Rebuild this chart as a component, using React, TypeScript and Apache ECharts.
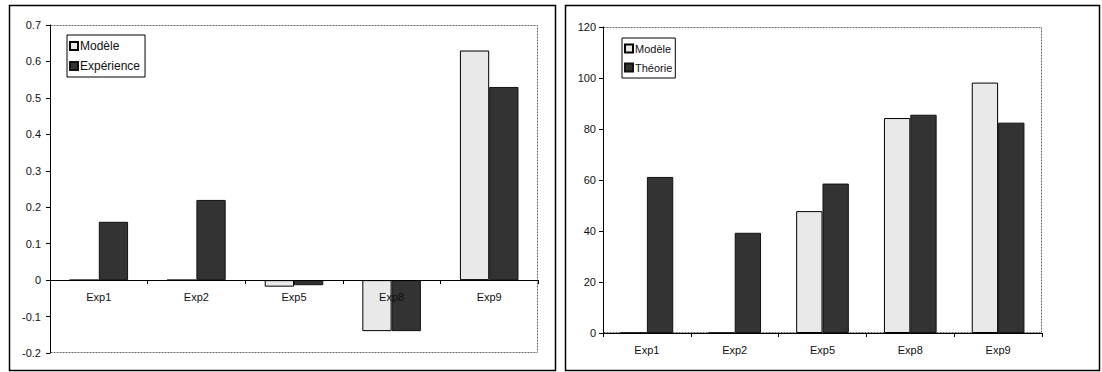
import React, { useEffect, useRef } from "react";
import * as echarts from "echarts";

const leftCategories = ["Exp1", "Exp2", "Exp5", "Exp8", "Exp9"];
const leftModele = [0, 0, -0.018, -0.14, 0.63];
const leftExperience = [0.16, 0.22, -0.014, -0.14, 0.53];

const rightCategories = ["Exp1", "Exp2", "Exp5", "Exp8", "Exp9"];
const rightModele = [0, 0, 47.8, 84.3, 98.2];
const rightTheorie = [61.2, 39.3, 58.6, 85.6, 82.5];

const FONT = "'Liberation Sans', Arial, sans-serif";
const LIGHT = "#e9e9e9";
const DARK = "#333333";

export default function App() {
  const ref = useRef<HTMLDivElement>(null);
  useEffect(() => {
    if (!ref.current) return;
    const chart = echarts.init(ref.current, null, { renderer: "svg" });
    const axisLabel = { fontFamily: FONT, fontSize: 11, color: "#111" };
    const yAxisCommon = {
      type: "value",
      axisLine: { show: true, lineStyle: { color: "#000", width: 1 } },
      axisTick: { show: true, length: 4, lineStyle: { color: "#000" } },
      splitLine: { show: false },
    };
    const xAxisCommon = {
      type: "category",
      z: 5,
      axisLine: { show: true, onZero: true, lineStyle: { color: "#000", width: 1 } },
      axisTick: { show: true, length: 4, inside: false, lineStyle: { color: "#000" } },
    };
    const barCommon = {
      type: "bar",
      barGap: "0%",
      barCategoryGap: "40%",
    };
    const legendCommon = {
      orient: "vertical",
      icon: "rect",
      itemWidth: 8,
      itemHeight: 8,
      itemGap: 8,
      borderColor: "#000",
      borderWidth: 1,
      selectedMode: false,
    };
    chart.setOption({
      animation: false,
      backgroundColor: "#fff",
      grid: [
        { left: 50, top: 25, width: 488, height: 328 },
        { left: 603, top: 27, width: 439, height: 306 },
      ],
      xAxis: [
        {
          ...xAxisCommon,
          gridIndex: 0,
          data: leftCategories,
          axisLabel: { ...axisLabel, margin: -62, hideOverlap: false },
        },
        {
          ...xAxisCommon,
          gridIndex: 1,
          data: rightCategories,
          axisLabel: { ...axisLabel, margin: 11 },
        },
      ],
      yAxis: [
        {
          ...yAxisCommon,
          gridIndex: 0,
          min: -0.2,
          max: 0.7,
          interval: 0.1,
          axisLabel: {
            ...axisLabel,
            margin: 9,
            formatter: (v: number) => String(Math.round(v * 10) / 10),
          },
        },
        {
          ...yAxisCommon,
          gridIndex: 1,
          min: 0,
          max: 120,
          interval: 20,
          axisLabel: { ...axisLabel, margin: 7 },
        },
      ],
      legend: [
        {
          ...legendCommon,
          data: ["Modèle", "Expérience"],
          left: 67,
          top: 35,
          padding: [5, 5, 5, 2],
          textStyle: { fontFamily: FONT, fontSize: 12, color: "#111", padding: [0, 0, 0, -3] },
        },
        {
          ...legendCommon,
          data: ["Modèle", "Théorie"],
          left: 622,
          top: 38,
          padding: [5, 3, 5, 2],
          textStyle: { fontFamily: FONT, fontSize: 11, color: "#111", padding: [0, 0, 0, -3] },
        },
      ],
      series: [
        {
          ...barCommon,
          name: "Modèle",
          xAxisIndex: 0,
          yAxisIndex: 0,
          data: leftModele,
          itemStyle: { color: LIGHT, borderColor: "#000", borderWidth: 1 },
        },
        {
          ...barCommon,
          name: "Expérience",
          xAxisIndex: 0,
          yAxisIndex: 0,
          data: leftExperience,
          itemStyle: { color: DARK, borderColor: "#111", borderWidth: 1 },
        },
        {
          ...barCommon,
          name: "Modèle",
          xAxisIndex: 1,
          yAxisIndex: 1,
          data: rightModele,
          itemStyle: { color: LIGHT, borderColor: "#000", borderWidth: 1 },
        },
        {
          ...barCommon,
          name: "Théorie",
          xAxisIndex: 1,
          yAxisIndex: 1,
          data: rightTheorie,
          itemStyle: { color: DARK, borderColor: "#111", borderWidth: 1 },
        },
      ],
      graphic: [
        {
          type: "rect",
          shape: { x: 9.5, y: 5.5, width: 546, height: 365 },
          style: { fill: "none", stroke: "#000", lineWidth: 1.5 },
          silent: true,
        },
        {
          type: "rect",
          shape: { x: 565.5, y: 5.5, width: 534, height: 365 },
          style: { fill: "none", stroke: "#000", lineWidth: 1.5 },
          silent: true,
        },
        {
          type: "rect",
          shape: { x: 50.5, y: 25.5, width: 487, height: 327 },
          style: { fill: "none", stroke: "#666", lineWidth: 1, lineDash: [2, 1] },
          silent: true,
          z: -1,
        },
        {
          type: "rect",
          shape: { x: 603.5, y: 27.5, width: 438, height: 305 },
          style: { fill: "none", stroke: "#666", lineWidth: 1, lineDash: [2, 1] },
          silent: true,
          z: -1,
        },
      ],
    });
    return () => chart.dispose();
  }, []);
  return (
    <div
      ref={ref}
      style={{ position: "fixed", left: 0, top: 0, width: 1102, height: 372, background: "#fff" }}
    />
  );
}
